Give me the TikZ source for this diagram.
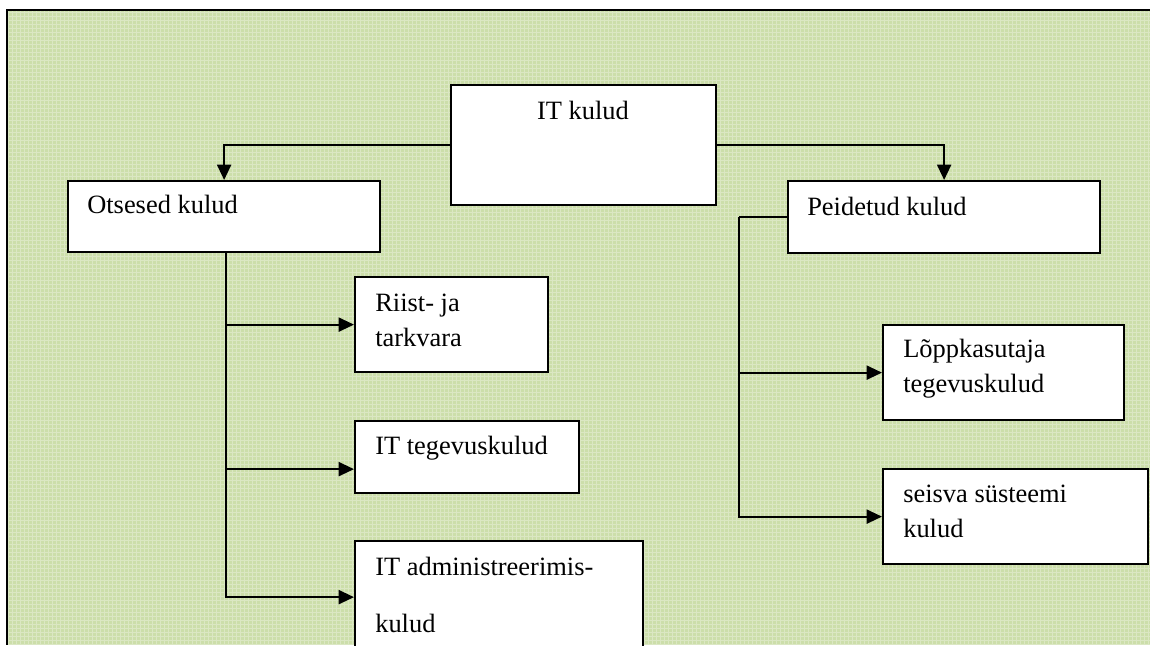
\documentclass[tikz,border=0pt]{standalone}
\usepackage{fontspec}
\setmainfont{Liberation Serif}
\usetikzlibrary{arrows.meta, calc}

\definecolor{bggreen}{RGB}{204,222,170}
\newcommand{\unitpx}{0.025cm}

\begin{document}
\begin{tikzpicture}[x=0.025cm, y=-0.025cm, >={Triangle[length=11pt, width=10pt]},
    box/.style={draw, fill=white, line width=1.6pt, inner sep=0pt, anchor=north west},
    txt/.style={font=\fontsize{18.8}{24.2}\selectfont, inner sep=0pt, align=left, anchor=base west},
    link/.style={line width=1.6pt}]
    \useasboundingbox (0,0) rectangle (1150,645);
    \clip (0,0) rectangle (1150,645);

    % Tausta ruuduline roheline pind ja raam
    \fill[bggreen] (7,10) rectangle (1150,645);
    \draw[white, opacity=0.3, line width=0.4pt, step=4*\unitpx] (7,10) grid (1150,645);
    \draw[line width=1.6pt] (1150,10) -- (7,10) -- (7,645);

    % Kastid
    \node[box, minimum width=265*\unitpx, minimum height=120*\unitpx] (itkulud) at (450,84) {};
    \node[box, minimum width=312*\unitpx, minimum height=71*\unitpx] (otsesed) at (67,180) {};
    \node[box, minimum width=312*\unitpx, minimum height=72*\unitpx] (peidetud) at (787,180) {};
    \node[box, minimum width=193*\unitpx, minimum height=95*\unitpx] (riist) at (354,276) {};
    \node[box, minimum width=224*\unitpx, minimum height=72*\unitpx] (tegevus) at (354,420) {};
    \node[box, minimum width=288*\unitpx, minimum height=112*\unitpx] (admin) at (354,540) {};
    \node[box, minimum width=241*\unitpx, minimum height=95*\unitpx] (lopp) at (882,324) {};
    \node[box, minimum width=265*\unitpx, minimum height=95*\unitpx] (seisva) at (882,468) {};

    % Tekstid kastides (mitmerealistel on alus viimasel real)
    \node[txt, anchor=base] (itkuludT) at (583,119) {IT kulud};
    \node[txt] (otsesedT) at (87,213) {Otsesed kulud};
    \node[txt] (peidetudT) at (807,215) {Peidetud kulud};
    \node[txt] (riistT) at (375,346) {Riist- ja\\tarkvara};
    \node[txt] (tegevusT) at (375,454) {IT tegevuskulud};
    \node[txt] (adminT) at (375,632) {IT administreerimis-\\[16.3pt]kulud};
    \node[txt] (loppT) at (903,392) {Lõppkasutaja\\tegevuskulud};
    \node[txt] (seisvaT) at (903,537) {seisva süsteemi\\kulud};

    % Ülemised nooled
    \draw[link, ->] (itkulud.west) -| (otsesed.north);
    \draw[link, ->] (itkulud.east) -| (peidetud.north);

    % Otsesed kulud harud
    \coordinate (oSpine) at ($(otsesed.south)+(2,0)$);
    \draw[link, ->] (oSpine) |- (riist.west);
    \draw[link, ->] (oSpine) |- ($(tegevus.west)+(0,12)$);
    \draw[link, ->] (oSpine) |- (admin.west);

    % Peidetud kulud harud
    \coordinate (pSpine) at ($(peidetud.west)+(-48,0)$);
    \draw[link] (peidetud.west) -- (pSpine);
    \draw[link, ->] (pSpine) |- (lopp.west);
    \draw[link, ->] (pSpine) |- (seisva.west);
\end{tikzpicture}
\end{document}
